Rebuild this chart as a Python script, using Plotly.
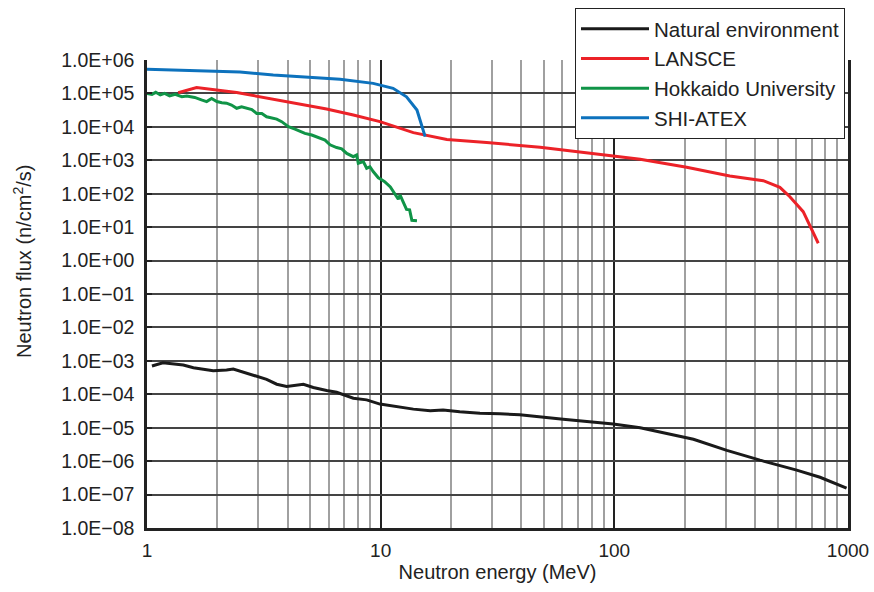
import plotly.graph_objects as go

# ---------------- data ----------------
nat_e = [1.05, 1.17, 1.43, 1.58, 1.92, 2.19, 2.34, 2.67, 3.25, 3.59, 3.96, 4.67, 5.15, 5.87, 6.48,
         7.64, 8.71, 9.93, 11.7, 13.8, 16.3, 18.5, 21.8, 26.6, 32.4, 39.4, 60.4, 78.6, 98.9, 129,
         218, 303, 420, 603, 759, 986]
nat_f = [7.0e-4, 8.8e-4, 7.5e-4, 6.2e-4, 5.1e-4, 5.3e-4, 5.7e-4, 4.2e-4, 2.8e-4, 2.0e-4, 1.7e-4,
         2.0e-4, 1.6e-4, 1.3e-4, 1.15e-4, 7.6e-5, 6.8e-5, 5.1e-5, 4.3e-5, 3.6e-5, 3.2e-5, 3.4e-5,
         3.0e-5, 2.7e-5, 2.6e-5, 2.45e-5, 1.8e-5, 1.5e-5, 1.3e-5, 1.0e-5, 4.5e-6, 2.1e-6, 1.07e-6,
         5.4e-7, 3.3e-7, 1.55e-7]

lan_e = [1.36, 1.63, 2.42, 3.96, 5.87, 7.64, 9.93, 13.8, 17.9, 19.2, 28.4, 48.1, 98.9, 129, 204,
         312, 434, 511, 564, 643, 746]
lan_f = [1.05e5, 1.5e5, 1.07e5, 5.6e4, 3.4e4, 2.27e4, 1.43e4, 6.7e3, 4.8e3, 4.2e3, 3.4e3, 2.45e3,
         1.35e3, 1.07e3, 6.2e2, 3.4e2, 2.45e2, 1.55e2, 81, 29, 3.3]

hok_e = [1.0, 1.05, 1.09, 1.14, 1.19, 1.25, 1.32, 1.36, 1.41, 1.48, 1.60, 1.71, 1.80, 1.89, 1.99,
         2.09, 2.19, 2.30, 2.42, 2.54, 2.67, 2.81, 2.95, 3.10, 3.25, 3.42, 3.59, 3.77, 4.03, 4.30,
         4.52, 4.74, 5.07, 5.41, 5.78, 6.07, 6.48, 6.81, 7.16, 7.64, 7.89, 8.02, 8.43, 8.71, 9.00,
         9.29, 9.61, 9.77, 10.1, 10.4, 11.0, 11.5, 11.9, 12.1, 12.5, 12.9, 13.3, 13.6, 14.3]
hok_f = [1.0e5, 9.4e4, 1.08e5, 9.0e4, 1.0e5, 8.4e4, 9.4e4, 8.8e4, 8.0e4, 8.4e4, 7.6e4, 6.4e4,
         5.7e4, 7.1e4, 5.7e4, 5.3e4, 5.1e4, 4.5e4, 3.6e4, 4.0e4, 3.6e4, 3.3e4, 2.5e4, 2.5e4,
         2.0e4, 1.8e4, 1.7e4, 1.43e4, 1.01e4, 8.6e3, 7.5e3, 6.4e3, 5.7e3, 4.9e3, 4.0e3, 2.9e3,
         2.4e3, 2.2e3, 1.6e3, 1.28e3, 1.44e3, 8.1e2, 9.1e2, 5.8e2, 6.4e2, 4.6e2, 3.6e2, 3.0e2,
         2.6e2, 2.3e2, 1.6e2, 1.03e2, 68, 92, 52, 34, 33, 16, 15.6]

shi_e = [1.0, 1.99, 2.50, 3.47, 4.82, 6.70, 9.29, 11.3, 12.9, 14.3, 15.5]
shi_f = [5.3e5, 4.7e5, 4.4e5, 3.55e5, 3.0e5, 2.65e5, 2.0e5, 1.42e5, 7.9e4, 3.2e4, 5.1e3]

y_tickvals = [10.0 ** p for p in range(-8, 7)]
y_ticktext = ["1.0E" + ("+" if p >= 0 else "\u2212") + "%02d" % abs(p) for p in range(-8, 7)]
x_tickvals = [1, 10, 100, 1000]
x_ticktext = ["1", "10", "100", "1000"]
x_minor = [m * 10 ** d for d in range(3) for m in range(2, 10)]

FONT = "Liberation Sans, Arial, Helvetica, sans-serif"

fig = go.Figure()
series = [
    ("Natural environment", nat_e, nat_f, "#1a1a1a"),
    ("LANSCE", lan_e, lan_f, "#ec2228"),
    ("Hokkaido University", hok_e, hok_f, "#109447"),
    ("SHI-ATEX", shi_e, shi_f, "#0d72bd"),
]
for name, xs, ys, col in series:
    fig.add_trace(go.Scatter(x=xs, y=ys, mode="lines", name=name,
                             line=dict(color=col, width=3)))

fig.update_layout(
    width=874, height=592,
    margin=dict(l=147, r=26, t=60, b=64, autoexpand=False),
    paper_bgcolor="white", plot_bgcolor="white",
    font=dict(family=FONT, size=19, color="#222"),
    showlegend=True,
    legend=dict(x=(575 - 147) / 701, xanchor="left", y=1 + (60 - 8) / 468, yanchor="top",
                bgcolor="white", bordercolor="#222", borderwidth=1,
                font=dict(size=20.5, color="#222"), itemwidth=68,
                tracegroupgap=0),
    xaxis=dict(type="log", range=[0, 3], tickvals=x_tickvals, ticktext=x_ticktext,
               showgrid=True, gridcolor="#222", gridwidth=1.5,
               minor=dict(tickvals=x_minor, showgrid=True, gridcolor="#a0a0a0", gridwidth=1.5,
                          ticks=""),
               showline=True, linecolor="#222", linewidth=2.5, ticks="", zeroline=False,
               ticklabelstandoff=3,
               title=dict(text="Neutron energy (MeV)", standoff=6, font=dict(size=20)),
               tickfont=dict(size=19)),
    yaxis=dict(type="log", range=[-8, 6], tickvals=y_tickvals, ticktext=y_ticktext,
               showgrid=True, gridcolor="#444", gridwidth=1.5,
               showline=True, linecolor="#222", linewidth=2.5, mirror=True,
               ticks="inside", ticklen=5, tickwidth=2, tickcolor="#222",
               ticklabelstandoff=6,
               tickfont=dict(size=19.5), zeroline=False),
    annotations=[dict(text="Neutron flux (n/cm<sup>2</sup>/s)", textangle=-90,
                      xref="paper", yref="paper", x=(22 - 147) / 701, y=(528 - 262) / 468,
                      xanchor="center", yanchor="middle", showarrow=False,
                      font=dict(size=20, color="#222"))],
)

fig.write_html("out.html", post_script="document.body.style.margin='0px';",
               config={"displayModeBar": False})
